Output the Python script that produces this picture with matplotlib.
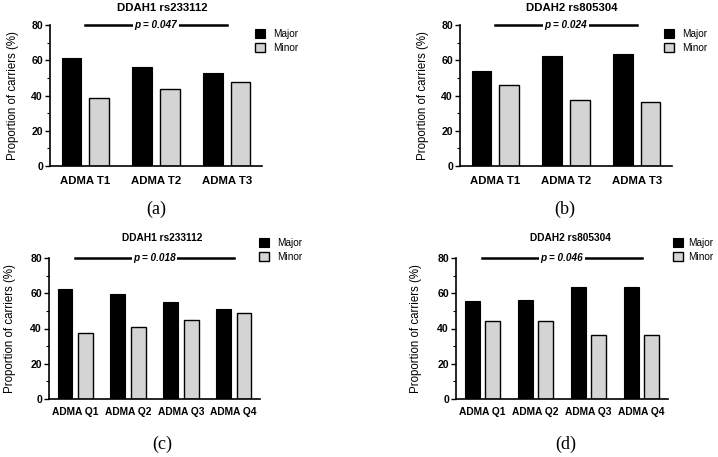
import matplotlib
matplotlib.use("Agg")
import matplotlib.pyplot as plt
import numpy as np
from matplotlib.patches import Patch

# ---- data ----
tert_labels = ["ADMA T1", "ADMA T2", "ADMA T3"]
quart_labels = ["ADMA Q1", "ADMA Q2", "ADMA Q3", "ADMA Q4"]

a_major = [61.5, 56.3, 52.6]
a_minor = [38.5, 43.7, 47.4]
b_major = [53.8, 62.5, 63.6]
b_minor = [46.2, 37.5, 36.4]
c_major = [62.6, 59.3, 55.0, 51.2]
c_minor = [37.4, 40.7, 45.0, 48.8]
d_major = [55.7, 56.0, 63.5, 63.8]
d_minor = [44.3, 44.0, 36.5, 36.2]

titles = ["DDAH1 rs233112", "DDAH2 rs805304", "DDAH1 rs233112", "DDAH2 rs805304"]
pvals = ["0.047", "0.024", "0.018", "0.046"]
panel_tags = ["(a)", "(b)", "(c)", "(d)"]
series_names = ["Major", "Minor"]

W, H = 718, 457
fig = plt.figure(figsize=(W / 100, H / 100), dpi=100)
plt.rcParams['font.family'] = ['Liberation Sans', 'DejaVu Sans']

def px_axes(left, right, top, bottom):
    return fig.add_axes([left / W, 1 - bottom / H, (right - left) / W, (bottom - top) / H])

MAJOR_C = "black"
MINOR_C = "#d4d4d4"

panels = [
    dict(box=(50, 262, 25, 166), cats=tert_labels, major=a_major, minor=a_minor,
         title_y=8, title_size=8.2, leg=(255, 29), legpad=0.8, tag=(156, 209), ylab_x=19),
    dict(box=(460, 672, 25, 166), cats=tert_labels, major=b_major, minor=b_minor,
         title_y=8, title_size=8.2, leg=(664, 29), legpad=0.8, tag=(565, 209), ylab_x=429),
    dict(box=(49, 260, 258, 399), cats=quart_labels, major=c_major, minor=c_minor,
         title_y=238, title_size=7.3, leg=(259, 238), legpad=0.8, tag=(162, 444), ylab_x=16),
    dict(box=(456, 668, 258, 399), cats=quart_labels, major=d_major, minor=d_minor,
         title_y=238, title_size=7.3, leg=(673, 238), legpad=0.5, tag=(566, 444), ylab_x=422),
]

for i, p in enumerate(panels):
    l, r, t, b = p["box"]
    ax = px_axes(l, r, t, b)
    n = len(p["cats"])
    x = np.arange(n)
    w = 0.28
    off = 0.195
    ax.bar(x - off, p["major"], width=w, color=MAJOR_C, edgecolor="black", linewidth=0.8, zorder=2)
    ax.bar(x + off, p["minor"], width=w, color=MINOR_C, edgecolor="black", linewidth=1.0, zorder=2)
    ax.set_xlim(-0.5, n - 0.5)
    ax.set_ylim(0, 80)
    ax.set_yticks([0, 20, 40, 60, 80])
    ax.set_yticks(np.arange(10, 80, 20), minor=True)
    ax.set_xticks(x)
    ax.set_xticklabels(p["cats"], fontsize=8.2 if n == 3 else 7.4, fontweight="bold")
    ax.tick_params(axis="x", length=0, pad=7 if n == 3 else 6)
    ax.tick_params(axis="y", which="major", length=3.5, width=1.0, labelsize=7.6, pad=1.5)
    ax.tick_params(axis="y", which="minor", length=2, width=0.8)
    for lab in ax.get_yticklabels():
        lab.set_fontweight("bold")
    for s in ["top", "right"]:
        ax.spines[s].set_visible(False)
    for s in ["left", "bottom"]:
        ax.spines[s].set_linewidth(1.2)
    ax.set_ylabel("Proportion of carriers (%)", fontsize=8.3)
    ax.yaxis.set_label_coords(-(l - p["ylab_x"]) / (r - l), 0.5)

    # significance line across groups
    ax.plot([0, n - 1], [80, 80], color="black", lw=1.8, clip_on=False, zorder=3)
    ax.text((n - 1) / 2, 80, "p = " + pvals[i], ha="center", va="center",
            fontsize=7.2, fontstyle="italic", fontweight="bold",
            bbox=dict(boxstyle="square,pad=0.15", fc="white", ec="none"), zorder=4, clip_on=False)

    # title
    fig.text(((l + r) / 2 + (6 if i < 2 else 8)) / W, 1 - p["title_y"] / H, titles[i],
             ha="center", va="center", fontsize=p["title_size"], fontweight="bold")

    # legend
    handles = [Patch(facecolor=MAJOR_C, edgecolor="black", linewidth=0.8),
               Patch(facecolor=MINOR_C, edgecolor="black", linewidth=1.0)]
    lx, ly = p["leg"]
    fig.legend(handles, series_names, loc="upper left",
               bbox_to_anchor=(lx / W, 1 - ly / H), frameon=False, fontsize=7.2,
               handlelength=1.0, handleheight=1.0, handletextpad=p["legpad"],
               labelspacing=0.4, borderpad=0, borderaxespad=0)

    # panel tag
    tx, ty = p["tag"]
    fig.text(tx / W, 1 - ty / H, panel_tags[i], ha="center", va="center",
             fontsize=13, family=["Liberation Serif", "DejaVu Serif"])

fig.savefig("out.png", dpi=100, facecolor="white")
